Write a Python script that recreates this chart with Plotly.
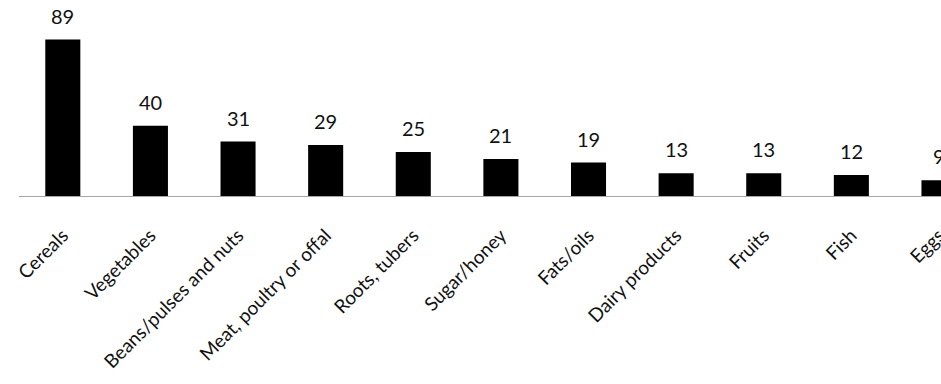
import plotly.graph_objects as go

categories = ["Cereals", "Vegetables", "Beans/pulses and nuts", "Meat, poultry or offal",
              "Roots, tubers", "Sugar/honey", "Fats/oils", "Dairy products", "Fruits",
              "Fish", "Eggs"]
values = [89, 40, 31, 29, 25, 21, 19, 13, 13, 12, 9]

FONT = "Lato, 'Open Sans', sans-serif"

fig = go.Figure(go.Bar(x=categories, y=values, marker=dict(color="black", line=dict(width=0)),
                       hoverinfo="skip"))

for c, v in zip(categories, values):
    fig.add_annotation(x=c, y=v, text=str(v), showarrow=False, yanchor="bottom",
                       yshift=10, font=dict(family=FONT, size=20, color="#111111"))

fig.update_layout(
    width=941, height=384,
    margin=dict(l=19, r=0, t=0, b=188, autoexpand=False),
    plot_bgcolor="white", paper_bgcolor="white",
    bargap=0.6, showlegend=False,
)
fig.update_xaxes(range=[-0.5, 10.023], showline=True, linecolor="#a6a6a6", linewidth=1,
                 ticks="", tickangle=-45, ticklabelstandoff=20, automargin=False,
                 tickfont=dict(family=FONT, size=19, color="#111111"), showgrid=False)
fig.update_yaxes(range=[0, 111.5], visible=False, showgrid=False, zeroline=False,
                 automargin=False)

fig.write_html("out.html")
